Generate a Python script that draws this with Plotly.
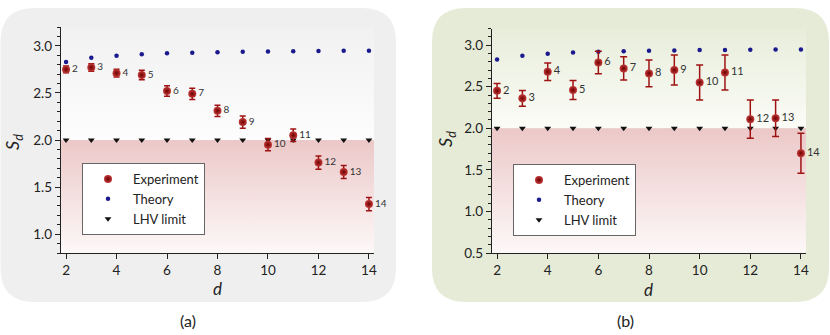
import plotly.graph_objects as go

W, H = 830, 335
FONT = 'Lato'

# data
d_vals = list(range(2, 15))
theory = [2.828, 2.873, 2.896, 2.910, 2.920, 2.927, 2.932, 2.936, 2.940, 2.942, 2.945, 2.947, 2.948]
lhv_limit = [2.0] * 13
exp_a = [2.75, 2.77, 2.71, 2.69, 2.52, 2.49, 2.31, 2.19, 1.95, 2.05, 1.76, 1.66, 1.32]
err_a = [0.035, 0.04, 0.042, 0.05, 0.055, 0.06, 0.06, 0.065, 0.065, 0.067, 0.07, 0.07, 0.07]
exp_b = [2.45, 2.36, 2.68, 2.46, 2.79, 2.72, 2.66, 2.70, 2.55, 2.67, 2.11, 2.12, 1.70]
err_b = [0.09, 0.095, 0.105, 0.115, 0.135, 0.14, 0.16, 0.18, 0.21, 0.21, 0.23, 0.22, 0.24]
labels = [str(d) for d in d_vals]

x_range = [1.8, 14.2]
y_range_a = [0.8, 3.2]
y_range_b = [0.5, 3.2]
lhv = 2.0


def rounded_rect(x0, y0, x1, y1, r):
    # pixel box (top-left origin) -> paper path with rounded corners
    def p(x, y):
        return f"{x / W:.5f},{1 - y / H:.5f}"
    return (f"M {p(x0 + r, y0)} L {p(x1 - r, y0)} Q {p(x1, y0)} {p(x1, y0 + r)} "
            f"L {p(x1, y1 - r)} Q {p(x1, y1)} {p(x1 - r, y1)} "
            f"L {p(x0 + r, y1)} Q {p(x0, y1)} {p(x0, y1 - r)} "
            f"L {p(x0, y0 + r)} Q {p(x0, y0)} {p(x0 + r, y0)} Z")


fig = go.Figure()

panels = [
    dict(xa='x', ya='y', yr=y_range_a, exp=exp_a, err=err_a, legend='legend',
         top=['rgb(253,253,253)', 'rgb(241,241,241)'], lab=10, cap=3),
    dict(xa='x2', ya='y2', yr=y_range_b, exp=exp_b, err=err_b, legend='legend2',
         top=['rgb(251,252,247)', 'rgb(232,237,219)'], lab=11, cap=3.5),
]

for i, pn in enumerate(panels):
    # light band above the LHV limit
    fig.add_trace(go.Scatter(
        x=[x_range[0], x_range[1], x_range[1], x_range[0]],
        y=[lhv, lhv, pn['yr'][1], pn['yr'][1]],
        fill='toself', mode='none', hoverinfo='skip', showlegend=False,
        fillgradient=dict(type='vertical', colorscale=[[0, pn['top'][0]], [1, pn['top'][1]]]),
        xaxis=pn['xa'], yaxis=pn['ya']))
    # pink band below the LHV limit
    fig.add_trace(go.Scatter(
        x=[x_range[0], x_range[1], x_range[1], x_range[0]],
        y=[pn['yr'][0], pn['yr'][0], lhv, lhv],
        fill='toself', mode='none', hoverinfo='skip', showlegend=False,
        fillgradient=dict(type='vertical',
                          colorscale=[[0, 'rgb(253,248,248)'], [1, 'rgb(236,200,200)']]),
        xaxis=pn['xa'], yaxis=pn['ya']))

    fig.add_trace(go.Scatter(
        x=d_vals, y=lhv_limit, mode='markers', name='LHV limit',
        marker=dict(symbol='triangle-down', size=6, color='#111111'),
        legend=pn['legend'], legendrank=3, xaxis=pn['xa'], yaxis=pn['ya']))
    fig.add_trace(go.Scatter(
        x=d_vals, y=theory, mode='markers', name='Theory',
        marker=dict(size=4.5, color='#1a1a8e'),
        legend=pn['legend'], legendrank=2, xaxis=pn['xa'], yaxis=pn['ya']))
    fig.add_trace(go.Scatter(
        x=d_vals, y=pn['exp'], mode='markers+text', name='Experiment',
        text=labels, textposition='middle right', cliponaxis=False,
        textfont=dict(family=FONT, size=pn['lab'], color='#333333'),
        marker=dict(size=8, color='#c23a3a',
                    gradient=dict(type='radial', color='#6e0000'),
                    line=dict(width=0)),
        error_y=dict(type='data', array=pn['err'], color='#9e1212',
                     thickness=1.5, width=pn['cap']),
        legend=pn['legend'], legendrank=1, xaxis=pn['xa'], yaxis=pn['ya']))

axis_common = dict(showline=True, linecolor='#222222', linewidth=1.3, showgrid=False,
                   zeroline=False, ticks='outside', ticklen=5, tickwidth=1.2, automargin=False,
                   tickcolor='#222222', tickfont=dict(family=FONT, size=13.5, color='#222222'))

xaxis = dict(axis_common, range=x_range, tick0=2, dtick=2)
yaxis = dict(axis_common, dtick=0.5, tickformat='.1f',
             minor=dict(dtick=0.1, ticks='outside', ticklen=3, tickwidth=1, tickcolor='#222222'))

legend_common = dict(bgcolor='white', bordercolor='#666666', borderwidth=1,
                     font=dict(family=FONT, size=13, color='#222222'),
                     itemwidth=40, xanchor='left', yanchor='top', traceorder='normal')

fig.update_layout(
    width=W, height=H,
    margin=dict(l=0, r=0, t=0, b=0, autoexpand=False),
    paper_bgcolor='white', plot_bgcolor='rgba(0,0,0,0)',
    showlegend=True,
    xaxis=dict(xaxis, domain=[61 / W, 374 / W], anchor='y'),
    yaxis=dict(yaxis, domain=[1 - 253 / H, 1 - 27 / H], range=y_range_a, anchor='x'),
    xaxis2=dict(xaxis, domain=[492 / W, 806 / W], anchor='y2'),
    yaxis2=dict(yaxis, domain=[1 - 253 / H, 1 - 28.5 / H], range=y_range_b, anchor='x2'),
    legend=dict(legend_common, x=82 / W, y=1 - 163 / H),
    legend2=dict(legend_common, x=513 / W, y=1 - 164 / H),
    shapes=[
        dict(type='path', xref='paper', yref='paper', layer='below',
             path=rounded_rect(0.5, 8, 396, 302, 34),
             fillcolor='#efefef', line=dict(width=0)),
        dict(type='path', xref='paper', yref='paper', layer='below',
             path=rounded_rect(432, 8, 829, 302, 34),
             fillcolor='#e6ebd7', line=dict(width=0)),
    ],
)

# axis titles and panel captions
texts = [
    (14, 142, '<i>S</i><sub><i>d</i></sub>', 18, -90),
    (447, 139, '<i>S</i><sub><i>d</i></sub>', 18, -90),
    (217, 288, '<i>d</i>', 17, 0),
    (648, 289, '<i>d</i>', 17, 0),
    (188, 320, '(a)', 16, 0),
    (625, 320, '(b)', 16, 0),
]
for x, y, t, s, ang in texts:
    fig.add_annotation(x=x / W, y=1 - y / H, xref='paper', yref='paper', text=t,
                       showarrow=False, textangle=ang, xanchor='center', yanchor='middle',
                       font=dict(family=FONT, size=s, color='#222222'))

# the page body has a default 8px margin; drop it so the figure sits at the window origin
fig.write_html("out.html", config={'displayModeBar': False},
               post_script="document.body.style.margin='0';")
